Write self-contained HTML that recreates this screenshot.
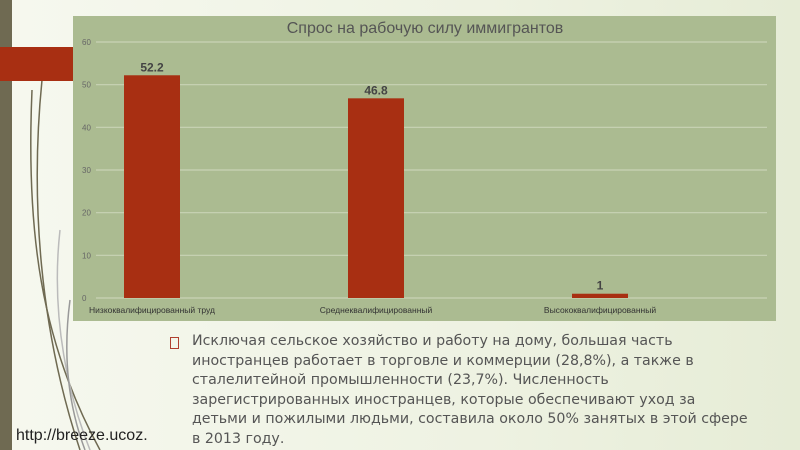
<!DOCTYPE html>
<html><head><meta charset="utf-8"><style>
html,body{margin:0;padding:0}
body{width:800px;height:450px;overflow:hidden;position:relative;background:linear-gradient(90deg,#f6f8ef,#eef2e2 60%,#e6ecd6);font-family:"Liberation Sans","DejaVu Sans",sans-serif}
#chart{position:absolute;left:0;top:0}
.txt{position:absolute;left:192px;top:332px;font-family:"DejaVu Sans",sans-serif;font-size:14.2px;line-height:19.6px;color:#555;white-space:nowrap;letter-spacing:0px}
.bullet{position:absolute;left:170px;top:337px;width:7px;height:10px;border:1px solid #b04030}
.url{position:absolute;left:16px;top:427px;font-size:16px;color:#222}
</style></head><body>
<svg id="chart" width="800" height="450">
<rect x="0" y="0" width="12" height="450" fill="#6f6a52"/>
<g fill="none" stroke="#6f6a52" stroke-width="1.5">
<path d="M42 80 C30 200 40 330 80 450"/><path d="M32 90 C26 230 40 340 100 450"/><path d="M60 230 C50 320 70 400 90 450" stroke="#bbb"/><path d="M70 300 C62 360 70 410 85 450" stroke="#999"/>
</g>
<rect x="0" y="47" width="73" height="34" fill="#a82f12"/>
<rect x="73" y="16" width="703" height="305" fill="#abbb91"/>
<text x="425" y="33" text-anchor="middle" font-size="16" fill="#555">Спрос на рабочую силу иммигрантов</text>
<g id="grid"></g><g id="bars"></g>
</svg>
<div class="bullet"></div>
<div class="txt">Исключая сельское хозяйство и работу на дому, большая часть<br>иностранцев работает в торговле и коммерции (28,8%), а также в<br>сталелитейной промышленности (23,7%). Численность<br>зарегистрированных иностранцев, которые обеспечивают уход за<br>детьми и пожилыми людьми, составила около 50% занятых в этой сфере<br>в 2013 году.</div>
<div class="url">http://breeze.ucoz.</div>
<script>
const categories=["Низкоквалифицированный труд","Среднеквалифицированный","Высококвалифицированный"];
const values=[52.2,46.8,1];
const labels=["52.2","46.8","1"];
const ticks=[0,10,20,30,40,50,60];
const NS="http://www.w3.org/2000/svg";
const y=v=>298-v*(256/60);
const band=224,x0=40,bw=56;
const xc=i=>x0+band*(i+0.5);
function mk(t,a,p,txt){const e=document.createElementNS(NS,t);for(const k in a)e.setAttribute(k,a[k]);if(txt!=null)e.textContent=txt;p.appendChild(e);return e;}
const g=document.getElementById('grid'),b=document.getElementById('bars');
ticks.forEach(t=>{
const l=mk('line',{x1:96,x2:767,y1:y(t),y2:y(t),stroke:'#c9d3b6','stroke-width':1.2},g);


const tx=mk('text',{x:82,y:y(t)+3,'font-size':8,fill:'#666'},g,String(t));


});
values.forEach((v,i)=>{
const r=mk('rect',{x:xc(i)-bw/2,y:y(v),width:bw,height:y(0)-y(v),fill:'#a82f12'},b);


const t=mk('text',{x:xc(i),y:y(v)-4,'text-anchor':'middle','font-size':12,'font-weight':'bold',fill:'#444'},b,labels[i]);


const c=mk('text',{x:xc(i),y:313,'text-anchor':'middle','font-size':8.5,fill:'#333'},b,categories[i]);


});
</script>
</body></html>
